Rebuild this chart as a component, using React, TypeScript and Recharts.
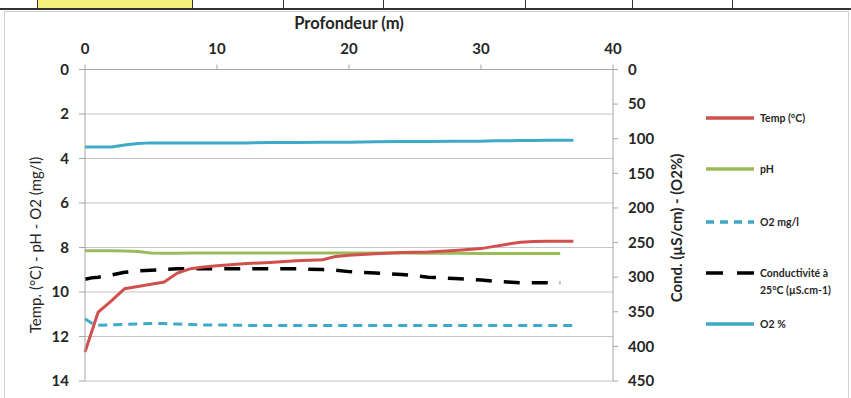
import React from "react";
import { LineChart, Line, XAxis, YAxis, CartesianGrid } from "recharts";

/* ---------------- DATA ---------------- */

const depths = [0, 0.5, 1, 2, 3, 4, 5, 6, 7, 8, 9, 10, 12, 14, 16, 18, 19, 20, 22, 24, 26, 28, 30, 31, 32, 33, 34, 35, 36, 37];

const temp = [12.7, 11.8, 10.9, 10.4, 9.85, 9.75, 9.65, 9.55, 9.15, 8.95, 8.88, 8.82, 8.73, 8.67, 8.6, 8.55, 8.4, 8.35, 8.28, 8.22, 8.2, 8.13, 8.05, 7.95, 7.85, 7.76, 7.73, 7.72, 7.72, 7.72];

const ph = [8.15, 8.15, 8.15, 8.15, 8.16, 8.18, 8.25, 8.26, 8.26, 8.25, 8.25, 8.25, 8.25, 8.25, 8.25, 8.25, 8.25, 8.25, 8.25, 8.25, 8.26, 8.26, 8.27, 8.27, 8.27, 8.27, 8.27, 8.27, 8.27, null];

const o2mg = [11.2, 11.4, 11.5, 11.48, 11.46, 11.44, 11.42, 11.42, 11.44, 11.46, 11.48, 11.48, 11.5, 11.5, 11.5, 11.5, 11.5, 11.5, 11.5, 11.5, 11.5, 11.5, 11.5, 11.5, 11.5, 11.5, 11.5, 11.5, 11.5, 11.5];

const cond = [303, 301, 300, 297, 293, 291, 290, 289, 288, 288, 288, 288, 288, 288, 288, 289, 290, 292, 294, 296, 300, 302, 304, 306, 307, 308, 308, 308, 308, null];

const o2pct = [112, 112, 112, 112, 109, 107, 106, 106, 106, 106, 106, 106, 106, 105.5, 105.5, 105, 105, 105, 104.5, 104, 104, 103.5, 103.5, 103, 103, 102.5, 102.5, 102.3, 102.3, 102.3];

const xTicks = [0, 10, 20, 30, 40];
const leftTicks = [0, 2, 4, 6, 8, 10, 12, 14];
const rightTicks = [0, 50, 100, 150, 200, 250, 300, 350, 400, 450];

const rows = depths.map((d, i) => ({
  depth: d,
  temp: temp[i],
  ph: ph[i],
  o2mg: o2mg[i],
  cond: cond[i],
  o2pct: o2pct[i]
}));

/* ---------------- STYLE ---------------- */

const RED = "#d0504d";
const GREEN = "#9bbb59";
const CYAN = "#3fa9c9";
const FONT = "Lato, 'Open Sans', sans-serif";
const tickStyle = { fill: "#262626", fontSize: 15, fontWeight: 700, fontFamily: FONT };

const legendItems = [
  { label: ["Temp (°C)"], color: RED, dash: undefined, y: 118 },
  { label: ["pH"], color: GREEN, dash: undefined, y: 169 },
  { label: ["O2  mg/l"], color: CYAN, dash: "8 6", y: 222 },
  { label: ["Conductivité à", "25°C (µS.cm-1)"], color: "#000", dash: "17 14", y: 273 },
  { label: ["O2 %"], color: CYAN, dash: undefined, y: 324 }
];

const topCells = [37, 192, 283, 383, 525, 632, 732];

/* ---------------- COMPONENT ---------------- */

export default function App() {
  return (
    <div
      style={{
        position: "absolute",
        left: 0,
        top: 0,
        width: 851,
        height: 398,
        background: "#fff",
        overflow: "hidden"
      }}
    >
      {/* spreadsheet strip behind the chart */}
      <div style={{ position: "absolute", left: 37, top: 0, width: 155, height: 8, background: "#f6f07a" }} />
      <div style={{ position: "absolute", left: 0, top: 8, width: 851, height: 2, background: "#333" }} />
      {topCells.map(x => (
        <div key={x} style={{ position: "absolute", left: x, top: 0, width: 1, height: 9, background: "#333" }} />
      ))}
      <div
        style={{
          position: "absolute",
          left: 4,
          top: 11,
          width: 845,
          height: 400,
          border: "1px solid #d0d0d0",
          boxSizing: "border-box"
        }}
      />

      <div style={{ position: "absolute", left: 0, top: 0 }}>
        <LineChart
          width={851}
          height={398}
          data={rows}
          margin={{ top: 39.5, right: 138, bottom: 17, left: 0 }}
        >
          <CartesianGrid yAxisId="left" vertical={false} stroke="#c4c4c4" />
          <XAxis
            dataKey="depth"
            type="number"
            orientation="top"
            domain={[0, 40]}
            ticks={xTicks}
            height={30}
            tick={tickStyle}
            tickSize={5}
            tickMargin={11}
            stroke="#a6a6a6"
            label={{
              value: "Profondeur (m)",
              position: "top",
              offset: 11,
              style: { fill: "#262626", fontSize: 16.5, fontWeight: 700, fontFamily: FONT }
            }}
          />
          <YAxis
            yAxisId="left"
            domain={[0, 14]}
            reversed
            ticks={leftTicks}
            width={85}
            tick={tickStyle}
            tickSize={6}
            tickMargin={10}
            stroke="#a6a6a6"
            label={() => (
              <text
                x={35}
                y={245}
                transform="rotate(-90, 35, 245)"
                textAnchor="middle"
                dominantBaseline="central"
                style={{ fill: "#262626", fontSize: 15, fontFamily: FONT }}
              >
                Temp. (°C) - pH - O2 (mg/l)
              </text>
            )}
          />
          <YAxis
            yAxisId="right"
            orientation="right"
            domain={[0, 450]}
            reversed
            ticks={rightTicks}
            width={100}
            tick={tickStyle}
            tickSize={5}
            tickMargin={10}
            stroke="#a6a6a6"
            label={() => (
              <text
                x={676}
                y={228}
                transform="rotate(-90, 676, 228)"
                textAnchor="middle"
                dominantBaseline="central"
                style={{ fill: "#262626", fontSize: 15, fontWeight: 700, fontFamily: FONT }}
              >
                Cond. (µS/cm) - (O2%)
              </text>
            )}
          />

          <Line yAxisId="left" dataKey="o2mg" stroke={CYAN} strokeWidth={3} strokeDasharray="9 6" dot={false} isAnimationActive={false} />
          <Line yAxisId="right" dataKey="cond" stroke="#000" strokeWidth={3.5} strokeDasharray="16 12" dot={false} isAnimationActive={false} />
          <Line yAxisId="right" dataKey="o2pct" stroke={CYAN} strokeWidth={3} dot={false} isAnimationActive={false} />
          <Line yAxisId="left" dataKey="ph" stroke={GREEN} strokeWidth={3} dot={false} isAnimationActive={false} />
          <Line yAxisId="left" dataKey="temp" stroke={RED} strokeWidth={3} dot={false} isAnimationActive={false} />
        </LineChart>
      </div>

      {/* legend */}
      <svg style={{ position: "absolute", left: 0, top: 0 }} width={851} height={398}>
        {legendItems.map(item => (
          <g key={item.label[0]}>
            <line
              x1={706}
              x2={754}
              y1={item.y}
              y2={item.y}
              stroke={item.color}
              strokeWidth={3.5}
              strokeDasharray={item.dash}
            />
            {item.label.map((t, k) => (
              <text
                key={t}
                x={760}
                y={item.y + k * 17}
                dominantBaseline="central"
                style={{ fill: "#262626", fontSize: 10.5, fontWeight: 700, fontFamily: FONT }}
              >
                {t}
              </text>
            ))}
          </g>
        ))}
      </svg>
    </div>
  );
}
